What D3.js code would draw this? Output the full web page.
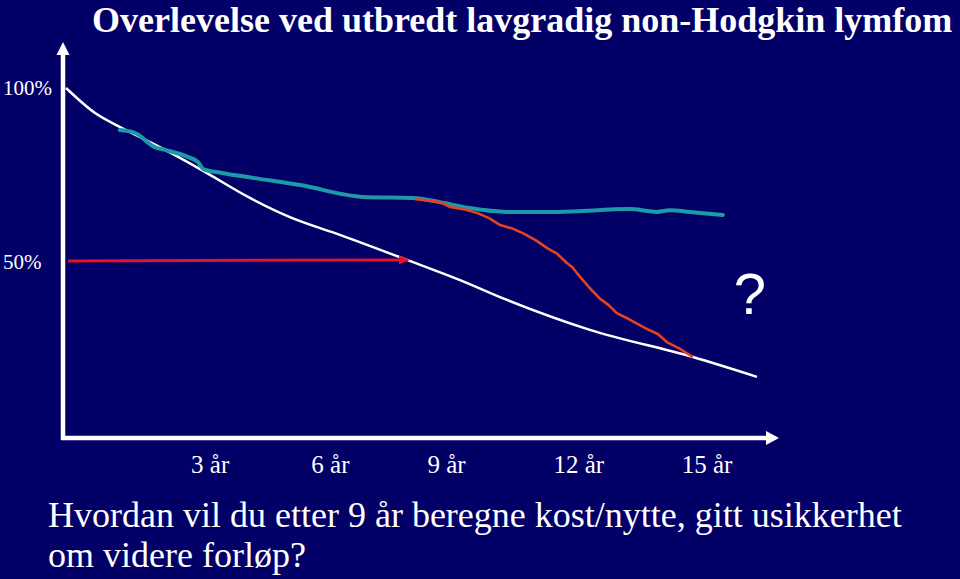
<!DOCTYPE html>
<html>
<head>
<meta charset="utf-8">
<script src="https://cdn.jsdelivr.net/npm/d3@7"></script>
<style>
  html, body { margin: 0; padding: 0; background: #020066; }
  svg { display: block; }
</style>
</head>
<body>
<svg id="chart" width="960" height="579"></svg>
<script>
// ---- Data (years, survival %) ----
const titleText = "Overlevelse ved utbredt lavgradig non-Hodgkin lymfom";
const questionLines = ["Hvordan vil du etter 9 år beregne kost/nytte, gitt usikkerhet", "om videre forløp?"];

const xTickValues = [3, 6, 9, 12, 15];
const xTickLabels = ["3 år", "6 år", "9 år", "12 år", "15 år"];
const yTickValues = [100, 50];
const yTickLabels = ["100%", "50%"];

// white: expected / reference survival
const whiteYears = [0, 0.68, 1.31, 2.32, 3.25, 4.26, 5.24, 6.41, 7.98, 9.22, 10.32, 12.26, 14.67, 16.17];
const whitePct   = [100, 92.8, 88.5, 82.2, 75.9, 68.7, 62.9, 57.8, 50.6, 44.8, 39.1, 30.5, 22.7, 17.0];

// teal: observed survival with treatment
const tealYears = [1.26, 1.61, 2.08, 2.32, 2.85, 3.09, 3.21, 3.65, 4.42, 5.48, 6.95, 8.12, 8.75, 9.45, 10.32, 11.49, 13.20, 13.83, 14.13, 14.60, 15.37];
const tealPct   = [87.9, 87.1, 83.0, 82.2, 80.2, 78.7, 76.7, 75.6, 74.1, 72.1, 68.7, 68.4, 67.2, 65.5, 64.4, 64.4, 65.2, 64.4, 64.9, 64.4, 63.5];

// red-orange: alternative continuation after 9 years
const redYears = [8.17, 8.75, 8.99, 9.30, 9.62, 9.90, 10.16, 10.45, 10.69, 11.00, 11.26, 11.50, 11.72, 11.85, 12.03, 12.25, 12.50, 12.70, 12.89, 13.20, 13.60, 13.85, 14.06, 14.35, 14.67];
const redPct   = [68.1, 67.2, 65.8, 65.2, 64.1, 62.6, 60.6, 59.6, 58.3, 56.2, 54.0, 52.3, 49.7, 48.5, 45.7, 42.6, 39.4, 37.6, 35.3, 33.4, 30.7, 29.3, 27.0, 25.2, 22.7];

// red arrow at 50%
const arrowYears = [0.05, 8.05];
const arrowPct   = [50.3, 50.6];

// ---- Layout ----
const svg = d3.select("#chart");
const bg = "#020066";
svg.append("rect").attr("width", 960).attr("height", 579).attr("fill", bg);

const x = d3.scaleLinear().domain([0, 15]).range([66, 707]);
const y = d3.scaleLinear().domain([0, 100]).range([436, 88]);

const serif = "'Liberation Serif', 'Times New Roman', Times, serif";
const sans = "'Liberation Sans', Arial, Helvetica, sans-serif";

// Title
svg.append("text")
  .attr("x", 92).attr("y", 32)
  .attr("fill", "#ffffff")
  .attr("font-family", serif)
  .attr("font-weight", "bold")
  .attr("font-size", 36)
  .text(titleText);

// Axes (arrows)
const axisX0 = 63, axisY0 = 438;
const g = svg.append("g");
g.append("line").attr("x1", axisX0).attr("x2", axisX0).attr("y1", axisY0 + 2).attr("y2", 52)
  .attr("stroke", "#fff").attr("stroke-width", 4.5);
g.append("path").attr("d", `M${axisX0},42 L${axisX0 - 6.5},55 L${axisX0 + 6.5},55 Z`).attr("fill", "#fff");
g.append("line").attr("x1", axisX0 - 2).attr("x2", 770).attr("y1", axisY0).attr("y2", axisY0)
  .attr("stroke", "#fff").attr("stroke-width", 4.5);
g.append("path").attr("d", `M779,${axisY0} L766,${axisY0 - 7} L766,${axisY0 + 7} Z`).attr("fill", "#fff");

// Y tick labels
svg.selectAll(".ylab").data(yTickValues).enter().append("text")
  .attr("x", 3).attr("y", d => y(d) + 7)
  .attr("fill", "#fff").attr("font-family", serif).attr("font-size", 21)
  .text((d, i) => yTickLabels[i]);

// X tick labels
svg.selectAll(".xlab").data(xTickValues).enter().append("text")
  .attr("x", d => x(d) + (d === 3 ? 16 : d === 6 ? 8 : d === 9 ? -4 : 0))
  .attr("y", 473)
  .attr("text-anchor", "middle")
  .attr("fill", "#fff").attr("font-family", serif).attr("font-size", 25)
  .text((d, i) => xTickLabels[i]);

const line = d3.line().x(d => x(d[0])).y(d => y(d[1]));
const zip = (a, b) => a.map((v, i) => [v, b[i]]);

// White curve
svg.append("path").datum(zip(whiteYears, whitePct))
  .attr("d", d3.line().x(d => x(d[0])).y(d => y(d[1])).curve(d3.curveMonotoneX))
  .attr("fill", "none").attr("stroke", "#ffffff").attr("stroke-width", 2.5);

// Teal curve
svg.append("path").datum(zip(tealYears, tealPct))
  .attr("d", d3.line().x(d => x(d[0])).y(d => y(d[1])).curve(d3.curveMonotoneX))
  .attr("fill", "none").attr("stroke", "#1c9aa8").attr("stroke-width", 4)
  .attr("stroke-linejoin", "round").attr("stroke-linecap", "round");

// Red-orange curve
svg.append("path").datum(zip(redYears, redPct))
  .attr("d", line)
  .attr("fill", "none").attr("stroke", "#e4431f").attr("stroke-width", 2.6)
  .attr("stroke-linejoin", "round");

// Red arrow
const ad = zip(arrowYears, arrowPct);
svg.append("path")
  .attr("d", line([ad[0], [ad[1][0] - 0.22, ad[1][1]]]))
  .attr("fill", "none").attr("stroke", "#e3132a").attr("stroke-width", 3);
const tipX = x(ad[1][0]), tipY = y(ad[1][1]);
svg.append("path").attr("d", `M${tipX},${tipY} L${tipX - 11},${tipY - 4.5} L${tipX - 11},${tipY + 4.5} Z`).attr("fill", "#e3132a");

// Question mark
svg.append("text")
  .attr("x", 750).attr("y", 314)
  .attr("text-anchor", "middle")
  .attr("fill", "#fff").attr("font-family", sans).attr("font-size", 58)
  .text("?");

// Bottom question
svg.selectAll(".q").data(questionLines).enter().append("text")
  .attr("x", 48).attr("y", (d, i) => 527 + i * 40)
  .attr("fill", "#fff").attr("font-family", serif).attr("font-size", 36)
  .text(d => d);
</script>
</body>
</html>
